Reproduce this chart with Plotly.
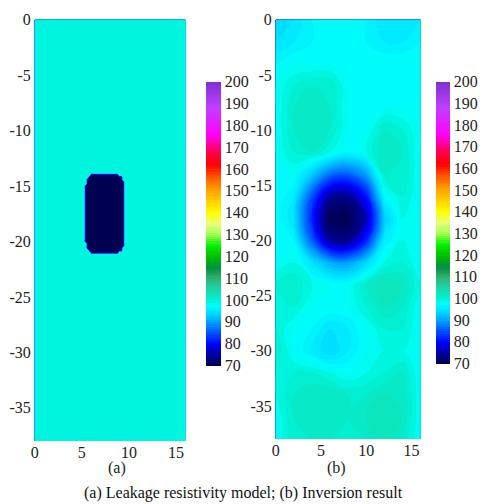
import numpy as np
import plotly.graph_objects as go

# ---------------- data ----------------
# colour scale (value, colour)
scale_values = [70, 74, 80, 86, 91, 95, 98, 100, 103, 106, 110, 115, 120, 125, 130, 135,
                140, 150, 157, 162, 168, 176, 188, 200]
scale_colors = ["#000050", "#00008c", "#0000ff", "#0060ff", "#00b0ff", "#00e4ff", "#00fffa",
                "#00f2d6", "#10e2b8", "#20d0a0", "#30b070", "#009040", "#00c000", "#00f000",
                "#a0ff50", "#e8ff80", "#ffff00", "#ffa800", "#ff5000", "#ff0000", "#ff0050",
                "#ff00ff", "#c040ff", "#8030d0"]
cbar_ticks = [70, 80, 90, 100, 110, 120, 130, 140, 150, 160, 170, 180, 190, 200]
x_ticks = [0, 5, 10, 15]
x_ticktext = ["0", "5", "10", "15"]
y_ticks = [0, -5, -10, -15, -20, -25, -30, -35]
y_ticktext = ["0", "-5", "-10", "-15", "-20", "-25", "-30", "-35"]

# (a) leakage resistivity model
model_background = 100
model_anomaly = 70
anomaly_x = [5.4, 9.5]
anomaly_y = [-21.1, -13.9]
anomaly_corner = 1.0
model_x = np.arange(0, 16.001, 0.2)
model_y = np.arange(0, -38.001, -0.2)

# (b) inversion result, read on a 2 m grid
inv_x = [0, 2, 4, 6, 8, 10, 12, 14, 16]
inv_y = [0, -2, -4, -6, -8, -10, -12, -14, -16, -18, -20, -22, -24, -26, -28, -30,
         -32, -34, -36, -38]
inv_z = [
    [94, 95, 97, 98, 98, 97, 95, 95, 96],
    [95, 96, 97, 98, 98, 97, 96, 96, 97],
    [97, 98, 98, 98, 98, 98, 98, 98, 98],
    [98, 100, 101, 101, 98, 98, 98, 98, 98],
    [98, 101, 102, 101, 98, 98, 98, 98, 98],
    [98, 101, 102, 101, 98, 98, 101, 100, 98],
    [98, 100, 101, 99, 97, 99, 102, 101, 98],
    [98, 98, 93, 87, 86, 90, 101, 101, 98],
    [98, 96, 85, 75, 74, 81, 97, 100, 98],
    [98, 95, 82, 70, 70, 76, 93, 99, 98],
    [98, 97, 86, 75, 74, 82, 96, 99, 98],
    [98, 99, 95, 91, 90, 94, 99, 100, 98],
    [100, 101, 99, 98, 98, 101, 103, 102, 99],
    [99, 100, 98, 98, 98, 100, 102, 101, 98],
    [100, 98, 97, 95, 96, 98, 100, 100, 98],
    [101, 98, 96, 94, 96, 98, 99, 99, 98],
    [99, 100, 100, 99, 98, 99, 100, 101, 98],
    [99, 101, 102, 102, 101, 101, 102, 102, 98],
    [98, 101, 102, 102, 101, 102, 103, 102, 98],
    [98, 101, 101, 101, 101, 101, 102, 101, 98],
]

# ---------------- build ----------------
vmin, vmax = 70, 200
colorscale = [[(v - vmin) / (vmax - vmin), c] for v, c in zip(scale_values, scale_colors)]

X, Y = np.meshgrid(model_x, model_y)
r = anomaly_corner
dx = np.maximum.reduce([anomaly_x[0] + r - X, np.zeros_like(X), X - (anomaly_x[1] - r)])
dy = np.maximum.reduce([anomaly_y[0] + r - Y, np.zeros_like(Y), Y - (anomaly_y[1] - r)])
inside = np.sqrt(dx ** 2 + dy ** 2) <= r
model_z = np.where(inside, model_anomaly, model_background)

FONT = "Times New Roman, Liberation Serif, DejaVu Serif, serif"
tickfont = dict(family=FONT, size=16, color="#222")


def cbar(x, thick, ycen, length):
    return dict(x=x, xanchor="left", y=ycen, yanchor="middle", len=length, lenmode="pixels",
                thickness=thick, thicknessmode="pixels", xpad=0, ypad=0, outlinewidth=0,
                tickvals=cbar_ticks, ticktext=[str(v) for v in cbar_ticks], ticks="",
                tickfont=tickfont)


contour_style = dict(start=vmin, end=vmax, size=1, coloring="fill", showlines=False)

W, H = 482, 504
fig = go.Figure()
fig.add_trace(go.Contour(
    x=model_x, y=model_y, z=model_z, colorscale=colorscale, zauto=False, zmin=vmin,
    zmax=vmax, contours=contour_style, line=dict(width=0, smoothing=1.3),
    xaxis="x", yaxis="y",
    colorbar=cbar(204 / W, 15, 1 - 219 / H, 284)))
fig.add_trace(go.Contour(
    x=inv_x, y=inv_y, z=inv_z, colorscale=colorscale, zauto=False, zmin=vmin, zmax=vmax,
    contours=contour_style, line=dict(width=0, smoothing=1.3), xaxis="x2", yaxis="y2",
    colorbar=cbar(436 / W, 14, 1 - 218 / H, 282)))

ax_common = dict(showgrid=False, zeroline=False, showline=False, ticks="",
                 tickfont=tickfont)
fig.update_layout(
    width=W, height=H, margin=dict(l=0, r=0, t=0, b=0),
    paper_bgcolor="white", plot_bgcolor="white", showlegend=False,
    font=dict(family=FONT),
    xaxis=dict(domain=[31 / W, 183 / W], range=[0, 16], tickvals=x_ticks,
               ticktext=x_ticktext, anchor="y", **ax_common),
    yaxis=dict(domain=[1 - 440 / H, 1 - 12 / H], range=[-38, 0], tickvals=y_ticks,
               ticktext=y_ticktext, anchor="x", ticklabelstandoff=3, **ax_common),
    xaxis2=dict(domain=[274 / W, 420 / W], range=[0, 16], tickvals=x_ticks,
                ticktext=x_ticktext, anchor="y2", **ax_common),
    yaxis2=dict(domain=[1 - 438 / H, 1 - 12 / H], range=[-38, 0], tickvals=y_ticks,
                ticktext=y_ticktext, anchor="x2", ticklabelstandoff=3, **ax_common),
    annotations=[
        dict(text="(a)", x=103 / W, y=1 - 467 / H, xref="paper", yref="paper",
             showarrow=False, yanchor="middle",
             font=dict(family=FONT, size=16, color="#222")),
        dict(text="(b)", x=347 / W, y=1 - 467 / H, xref="paper", yref="paper",
             showarrow=False, yanchor="middle",
             font=dict(family=FONT, size=16, color="#222")),
        dict(text="(a) Leakage resistivity model; (b) Inversion result", x=241 / W,
             y=1 - 493 / H, xref="paper", yref="paper", showarrow=False, yanchor="middle",
             font=dict(family=FONT, size=16, color="#111")),
    ],
)
fig.write_html("out.html")
